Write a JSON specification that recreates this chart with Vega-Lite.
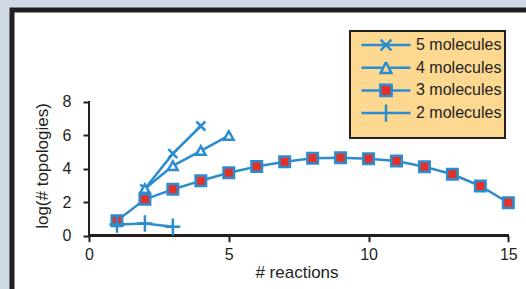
{
  "$schema": "https://vega.github.io/schema/vega-lite/v6.json",
  "width": 514,
  "height": 279,
  "autosize": {"type": "none"},
  "padding": {"left": 12, "top": 10, "right": 0, "bottom": 0},
  "background": "#cfdae6",
  "config": {
    "view": {"fill": "white", "stroke": "#231f20", "strokeWidth": 5, "strokeCap": "square", "strokeDash": [514, 793, 279]},
    "axis": {
      "grid": false, "domain": false, "ticks": true, "tickColor": "#231f20", "tickWidth": 2, "tickSize": 6,
      "labelColor": "#231f20", "labelFont": "Liberation Sans", "labelFontSize": 16,
      "titleColor": "#231f20", "titleFont": "Liberation Sans", "titleFontSize": 17, "titleFontWeight": "normal",
      "labelFlush": false, "labelOverlap": false
    },
    "legend": {
      "fillColor": "#fdd890", "strokeColor": "#231f20", "strokeWidth": 2, "padding": 3,
      "symbolSize": 2401, "clipHeight": 22, "rowPadding": 0.7,
      "symbolOffset": 7, "labelOffset": 4,
      "labelFont": "Liberation Sans", "labelFontSize": 16, "labelColor": "#231f20", "labelLimit": 0,
      "titleOrient": "bottom", "titleFontSize": 6, "titlePadding": 5
    }
  },
  "data": {"values": [
    {"series": "5 molecules", "x": 2, "y": 2.8},
    {"series": "5 molecules", "x": 3, "y": 4.9},
    {"series": "5 molecules", "x": 4, "y": 6.55},
    {"series": "4 molecules", "x": 2, "y": 2.8},
    {"series": "4 molecules", "x": 3, "y": 4.17},
    {"series": "4 molecules", "x": 4, "y": 5.07},
    {"series": "4 molecules", "x": 5, "y": 5.97},
    {"series": "3 molecules", "x": 1, "y": 0.9},
    {"series": "3 molecules", "x": 2, "y": 2.17},
    {"series": "3 molecules", "x": 3, "y": 2.77},
    {"series": "3 molecules", "x": 4, "y": 3.28},
    {"series": "3 molecules", "x": 5, "y": 3.76},
    {"series": "3 molecules", "x": 6, "y": 4.13},
    {"series": "3 molecules", "x": 7, "y": 4.42},
    {"series": "3 molecules", "x": 8, "y": 4.62},
    {"series": "3 molecules", "x": 9, "y": 4.66},
    {"series": "3 molecules", "x": 10, "y": 4.6},
    {"series": "3 molecules", "x": 11, "y": 4.46},
    {"series": "3 molecules", "x": 12, "y": 4.12},
    {"series": "3 molecules", "x": 13, "y": 3.67},
    {"series": "3 molecules", "x": 14, "y": 2.97},
    {"series": "3 molecules", "x": 15, "y": 1.97},
    {"series": "2 molecules", "x": 1, "y": 0.67},
    {"series": "2 molecules", "x": 2, "y": 0.73},
    {"series": "2 molecules", "x": 3, "y": 0.53}
  ]},
  "layer": [
    {
      "mark": {"type": "rule", "color": "#231f20", "strokeWidth": 2},
      "encoding": {
        "x": {"datum": 0, "type": "quantitative"},
        "x2": {"datum": 15},
        "y": {"datum": 0, "type": "quantitative"}
      }
    },
    {
      "mark": {"type": "rule", "color": "#231f20", "strokeWidth": 2},
      "encoding": {
        "x": {"datum": 0, "type": "quantitative"},
        "y": {"datum": 0, "type": "quantitative"},
        "y2": {"datum": 8}
      }
    },
    {
      "mark": {"type": "line", "color": "#2b8dd0", "strokeWidth": 2.5},
      "encoding": {
        "x": {"field": "x", "type": "quantitative",
          "scale": {"domain": [-2.755, 15.633], "nice": false, "zero": false},
          "axis": {"title": "# reactions", "values": [0, 5, 10, 15], "format": "d", "offset": -53.3, "labelPadding": 5,
            "titleX": 284.5, "titleY": 42, "titleAlign": "center", "titleBaseline": "alphabetic", "titleAnchor": "start"}},
        "y": {"field": "y", "type": "quantitative",
          "scale": {"domain": [-3.18, 13.475], "nice": false, "zero": false},
          "axis": {"title": "log(# topologies)", "values": [0, 2, 4, 6, 8], "format": "d", "offset": -77, "labelPadding": 12,
            "titleX": -41.6, "titleY": 155.5, "titleAngle": 270, "titleAlign": "center", "titleBaseline": "alphabetic", "titleAnchor": "start"}},
        "detail": {"field": "series", "type": "nominal"}
      }
    },
    {
      "transform": [{"filter": "datum.series == '5 molecules'"}],
      "mark": {"type": "point", "shape": "M-1,-1L1,1M-1,1L1,-1", "size": 81, "filled": false, "stroke": "#2b8dd0", "strokeWidth": 2.5, "opacity": 1},
      "encoding": {"x": {"field": "x", "type": "quantitative"}, "y": {"field": "y", "type": "quantitative"}}
    },
    {
      "transform": [{"filter": "datum.series == '4 molecules'"}],
      "mark": {"type": "point", "shape": "M0,-0.95L1,0.85L-1,0.85Z", "size": 90, "filled": true, "fill": "white", "stroke": "#2b8dd0", "strokeWidth": 2.5, "opacity": 1},
      "encoding": {"x": {"field": "x", "type": "quantitative"}, "y": {"field": "y", "type": "quantitative"}}
    },
    {
      "transform": [{"filter": "datum.series == '3 molecules'"}],
      "mark": {"type": "point", "shape": "square", "size": 110, "filled": true, "fill": "#e63027", "stroke": "#2b8dd0", "strokeWidth": 2.5, "opacity": 1},
      "encoding": {"x": {"field": "x", "type": "quantitative"}, "y": {"field": "y", "type": "quantitative"}}
    },
    {
      "transform": [{"filter": "datum.series == '2 molecules'"}],
      "mark": {"type": "point", "shape": "M-0.9,0H0.9M0,-1V1", "size": 276, "filled": false, "stroke": "#2b8dd0", "strokeWidth": 2.5, "opacity": 1},
      "encoding": {"x": {"field": "x", "type": "quantitative"}, "y": {"field": "y", "type": "quantitative"}}
    },
    {
      "mark": {"type": "point", "opacity": 0, "filled": false, "fill": "#e63027", "stroke": "#2b8dd0", "strokeWidth": 2.5},
      "encoding": {
        "x": {"field": "x", "type": "quantitative"},
        "y": {"field": "y", "type": "quantitative"},
        "shape": {"field": "series", "type": "nominal",
          "scale": {
            "domain": ["5 molecules", "4 molecules", "3 molecules", "2 molecules"],
            "range": [
              "M-1,0H1M-0.22,-0.22L0.22,0.22M-0.22,0.22L0.22,-0.22",
              "M-1,0H-0.11M0.11,0H1M0,-0.23L0.22,0.22L-0.22,0.22L0,-0.23L-0.22,0.22L0.22,0.22Z",
              "M-1,0H-0.23M0.23,0H1M-0.23,-0.23H0.23V0.23H-0.23Z",
              "M-1,0H1M0,-0.35V0.35"
            ]
          },
          "legend": {"orient": "none", "legendX": 338, "legendY": 21, "title": " ", "symbolStrokeWidth": 2.5, "symbolOpacity": 1,
            "labelFont": "Liberation Sans", "labelFontSize": 16, "labelColor": "#231f20", "labelOffset": 4}
        }
      }
    }
  ]
}
